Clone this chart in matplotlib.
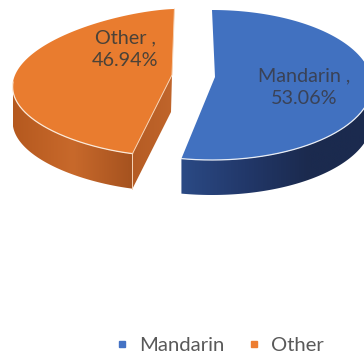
import numpy as np
import matplotlib
matplotlib.use("Agg")
import matplotlib.pyplot as plt
from matplotlib.patches import Polygon
from matplotlib.lines import Line2D
from matplotlib.colors import LinearSegmentedColormap

categories = ["Mandarin", "Other"]
shares = [53.06, 46.94]
labels = ["Mandarin ,\n53.06%", "Other ,\n46.94%"]

plt.rcParams["font.family"] = ["Lato", "DejaVu Sans"]
fig = plt.figure(figsize=(3.64, 3.53), dpi=100)
ax = fig.add_axes([0, 0, 1, 1])
ax.set_xlim(0, 364)
ax.set_ylim(353, 0)
ax.axis("off")

def arc(t0, t1, g):
    t = np.linspace(t0, t1, 200)
    y = g["cy"] - g["b"] * np.cos(t)
    s = np.sin(t)
    x = g["cx"] + g["a"] * np.sign(s) * np.abs(s) ** g["q"] + g["k"] * (y - g["cy"])
    return np.column_stack([x, y])

def ribbon(pts, depth):
    low = pts[::-1] + [0, depth]
    return np.vstack([pts, low])

def gradient(poly, stops, zorder):
    cm = LinearSegmentedColormap.from_list("g", stops)
    x0, x1 = poly[:, 0].min(), poly[:, 0].max()
    y0, y1 = poly[:, 1].min(), poly[:, 1].max()
    im = ax.imshow(np.linspace(0, 1, 256)[None, :], cmap=cm, aspect="auto",
                   extent=[x0, x1, y1, y0], zorder=zorder)
    p = Polygon(poly, closed=True, transform=ax.transData, fc="none", ec="none")
    ax.add_patch(p)
    im.set_clip_path(p)

ang = np.cumsum([0] + shares) / sum(shares) * 2 * np.pi
depth = 35
blue = dict(cx=212, cy=85, a=160, b=75, k=0.0, q=1.0, apex=(215, 77))
orange = dict(cx=162, cy=82, a=149, b=73, k=-0.17, q=1.3, apex=(172, 75))

# Mandarin
top = arc(ang[0], ang[1], blue)
side = arc(np.pi / 2, ang[1], blue)
gradient(ribbon(side, depth), ["#2b4a85", "#22386a", "#1b2a4e", "#1b2a4e"], 2)
ax.add_patch(Polygon(np.vstack([[blue["apex"]], top]), closed=True, fc="#4171c0",
                     ec="none", zorder=3))
ax.plot(*arc(np.pi / 2, ang[1], blue).T, color="#e8edf5", lw=0.9, zorder=4)

# Other
top = arc(ang[1], ang[2], orange)
side = arc(ang[1], 3 * np.pi / 2, orange)
gradient(ribbon(side, depth), ["#b5591f", "#c8692b", "#a5521f"], 2)
corner = top[0]
apex = np.array(orange["apex"], float)
cut = np.array([corner, apex, apex + [-1, depth + 2], corner + [0, depth]])
gradient(cut, ["#b55c24", "#c0652b"], 2)
ax.add_patch(Polygon(np.vstack([[apex], top]), closed=True, fc="#e97c2f", ec="none", zorder=3))
ax.plot(*arc(ang[1], 3 * np.pi / 2, orange).T, color="#fbe9d8", lw=0.9, zorder=4)
ax.plot([corner[0], apex[0], top[-1][0]], [corner[1], apex[1], top[-1][1]],
        color="#f6d3b5", lw=0.7, zorder=4)
ax.plot([corner[0], corner[0]], [corner[1], corner[1] + depth], color="#f6d3b5", lw=0.7, zorder=4)

ax.text(304, 87, labels[0], ha="center", va="center", fontsize=14.2, color="#3a4256",
        linespacing=1.42, zorder=5)
ax.text(125, 49, labels[1], ha="center", va="center", fontsize=14.2, color="#4a4238",
        linespacing=1.42, zorder=5)

handles = [Line2D([], [], ls="none", marker="s", ms=4.6, color=c)
           for c in ["#4472c4", "#ed7d31"]]
leg = ax.legend(handles, categories, ncol=2, frameon=False, fontsize=14.6,
                loc="center", bbox_to_anchor=(218 / 364, 1 - 345 / 353),
                labelcolor="#595959", handletextpad=0.35, columnspacing=0.95, handlelength=1.0)
fig.savefig("out.png", dpi=100, facecolor="white")
